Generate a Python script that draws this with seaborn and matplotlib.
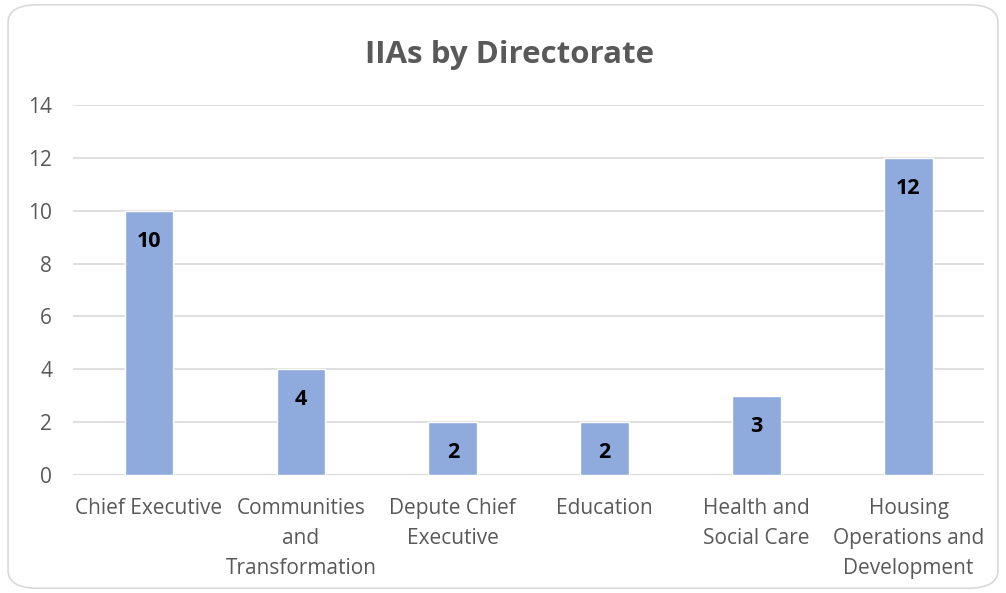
import seaborn as sns
import matplotlib.pyplot as plt
from matplotlib.patches import FancyBboxPatch
import pandas as pd

# data
directorates = ['Chief Executive', 'Communities\nand\nTransformation', 'Depute Chief\nExecutive',
                'Education', 'Health and\nSocial Care', 'Housing\nOperations and\nDevelopment']
iia_counts = [10, 4, 2, 2, 3, 12]
y_ticks = [0, 2, 4, 6, 8, 10, 12, 14]

sns.set_style('white')
plt.rcParams['font.family'] = ['Open Sans', 'DejaVu Sans']

df = pd.DataFrame({'Directorate': directorates, 'IIAs': iia_counts})

fig = plt.figure(figsize=(10.06, 5.93), dpi=100)
ax = fig.add_axes([0.0726, 0.199, 0.906, 0.624])

sns.barplot(data=df, x='Directorate', y='IIAs', color='#8FAADC', saturation=1, width=0.32, ax=ax)

# value labels inside the top of each bar
for bar, val in zip(ax.patches, iia_counts):
    ax.annotate(str(val), (bar.get_x() + bar.get_width() / 2, bar.get_height()),
                xytext=(0, -22), textcoords='offset points', ha='center', va='center',
                fontsize=15.5, fontweight='bold', color='black')

ax.set_ylim(0, 14)
ax.set_yticks(y_ticks)
ax.yaxis.grid(True, color='#D9D9D9', linewidth=1.2)
ax.set_axisbelow(True)
for s in ax.spines.values():
    s.set_visible(False)
ax.axhline(0, color='#D9D9D9', linewidth=1.2, zorder=0)
ax.tick_params(axis='both', length=0, labelsize=15, colors='#595959')
ax.tick_params(axis='x', pad=16.5)
ax.tick_params(axis='y', pad=15)
for lbl in ax.get_xticklabels():
    lbl.set_linespacing(1.55)
ax.set_xlabel('')
ax.set_ylabel('')

fig.text(0.507, 0.907, 'IIAs by Directorate', ha='center', va='center',
         fontsize=22.5, fontweight='bold', color='#595959')

# rounded chart border
border = FancyBboxPatch((0.008, 0.008), 0.984, 0.984, boxstyle='round,pad=0,rounding_size=0.03',
                        transform=fig.transFigure, facecolor='none', edgecolor='#D9D9D9', linewidth=1.2)
fig.patches.append(border)

fig.savefig('out.png', dpi=100)
